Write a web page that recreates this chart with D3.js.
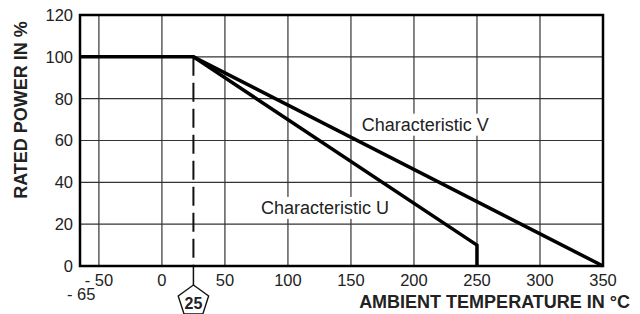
<!DOCTYPE html>
<html>
<head>
<meta charset="utf-8">
<script src="https://cdnjs.cloudflare.com/ajax/libs/d3/7.8.5/d3.min.js"></script>
<style>
  body { margin: 0; background: #fff; }
  svg { display: block; font-family: "Liberation Sans", Arial, Helvetica, sans-serif; }
  .tick-label { font-size: 16.5px; fill: #222; }
  .axis-title { font-size: 18px; font-weight: bold; fill: #222; }
  .curve-label { font-size: 18px; fill: #222; }
</style>
</head>
<body>
<div class="chart"></div>
<script>
// Chart data
var xTicks = [-50, 0, 50, 100, 150, 200, 250, 300, 350];
var yTicks = [0, 20, 40, 60, 80, 100, 120];
var xMinLabel = -65;
var ratedTemp = 25;
var charU = [[-65, 100], [25, 100], [250, 10], [250, 0]];
var charV = [[25, 100], [350, 0]];
var curveNames = ["Characteristic V", "Characteristic U"];

// where the curve names sit, in data units
var labelAnchors = [[158.5, 64.7], [78.6, 24.9]];

var svgWidth = 640;
var svgHeight = 314;
var margin = { top: 15, right: 37, bottom: 48, left: 80 };
var width = svgWidth - margin.left - margin.right;
var height = svgHeight - margin.top - margin.bottom;

var svg = d3.select(".chart")
    .append("svg")
    .attr("width", svgWidth)
    .attr("height", svgHeight);

var chart = svg.append("g")
    .attr("transform", `translate(${margin.left}, ${margin.top})`);

var x = d3.scaleLinear().domain([-65, 350]).range([0, width]);
var y = d3.scaleLinear().domain([0, 120]).range([height, 0]);

// grid lines
chart.append("g").selectAll("line")
    .data(xTicks.filter(function(d) { return d < 350; }))
    .enter().append("line")
    .attr("x1", function(d) { return x(d); })
    .attr("x2", function(d) { return x(d); })
    .attr("y1", 0).attr("y2", height)
    .attr("stroke", "#333").attr("stroke-width", 1.2);

chart.append("g").selectAll("line")
    .data(yTicks.filter(function(d) { return d > 0 && d < 120; }))
    .enter().append("line")
    .attr("x1", 0).attr("x2", width)
    .attr("y1", function(d) { return y(d); })
    .attr("y2", function(d) { return y(d); })
    .attr("stroke", "#333").attr("stroke-width", 1.2);

// curve labels with white background
curveNames.forEach(function(name, i) {
    var g = chart.append("g");
    var t = g.append("text")
        .attr("class", "curve-label")
        .attr("x", x(labelAnchors[i][0]))
        .attr("y", y(labelAnchors[i][1]))
        .text(name);
    var b = t.node().getBBox();
    g.insert("rect", "text")
        .attr("x", b.x - 2).attr("y", b.y - 1)
        .attr("width", b.width + 4).attr("height", b.height + 2)
        .attr("fill", "#fff");
});

// dashed line at rated temperature
chart.append("line")
    .attr("x1", x(ratedTemp)).attr("x2", x(ratedTemp))
    .attr("y1", y(100)).attr("y2", height)
    .attr("stroke", "#111").attr("stroke-width", 2)
    .attr("stroke-dasharray", "19,7");
chart.append("line")
    .attr("x1", x(ratedTemp)).attr("x2", x(ratedTemp))
    .attr("y1", height).attr("y2", height + 19)
    .attr("stroke", "#111").attr("stroke-width", 1.5);

// frame
chart.append("rect")
    .attr("x", 0).attr("y", 0)
    .attr("width", width).attr("height", height)
    .attr("fill", "none")
    .attr("stroke", "#000").attr("stroke-width", 2.5);

// curves
var line = d3.line()
    .x(function(d) { return x(d[0]); })
    .y(function(d) { return y(d[1]); });

[charU, charV].forEach(function(s) {
    chart.append("path")
        .datum(s)
        .attr("d", line)
        .attr("fill", "none")
        .attr("stroke", "#000")
        .attr("stroke-width", 3.5)
        .attr("stroke-linejoin", "miter");
});

// y tick labels
chart.append("g").selectAll("text")
    .data(yTicks)
    .enter().append("text")
    .attr("class", "tick-label")
    .attr("x", -7)
    .attr("y", function(d) { return y(d); })
    .attr("dy", "0.36em")
    .attr("text-anchor", "end")
    .text(function(d) { return d; });

// x tick labels
chart.append("g").selectAll("text")
    .data(xTicks)
    .enter().append("text")
    .attr("class", "tick-label")
    .attr("x", function(d) { return x(d); })
    .attr("y", height + 20)
    .attr("text-anchor", "middle")
    .text(function(d) { return d < 0 ? "- " + Math.abs(d) : d; });

chart.append("text")
    .attr("class", "tick-label")
    .attr("x", x(xMinLabel) - 13)
    .attr("y", height + 34)
    .attr("text-anchor", "start")
    .text("- " + Math.abs(xMinLabel));

// pentagon marker with 25
var cx = x(ratedTemp), cy = height + 35, R = 16;
var pts = d3.range(5).map(function(i) {
    var a = -Math.PI / 2 + i * 2 * Math.PI / 5;
    return [cx + R * Math.cos(a), cy + R * Math.sin(a)];
});
chart.append("polygon")
    .attr("points", pts.map(function(p) { return p.join(","); }).join(" "))
    .attr("fill", "#fff")
    .attr("stroke", "#111")
    .attr("stroke-width", 1.4);
chart.append("text")
    .attr("x", cx).attr("y", cy + 8)
    .attr("text-anchor", "middle")
    .style("font-size", "16px")
    .style("font-weight", "bold")
    .attr("fill", "#222")
    .text(ratedTemp);

// axis titles
chart.append("text")
    .attr("class", "axis-title")
    .attr("x", width + 27)
    .attr("y", height + 42)
    .attr("text-anchor", "end")
    .text("AMBIENT TEMPERATURE IN °C");

chart.append("text")
    .attr("class", "axis-title")
    .attr("transform", "rotate(-90)")
    .attr("x", -110 + margin.top)
    .attr("y", 27 - margin.left)
    .attr("text-anchor", "middle")
    .text("RATED POWER IN %");
</script>
</body>
</html>
